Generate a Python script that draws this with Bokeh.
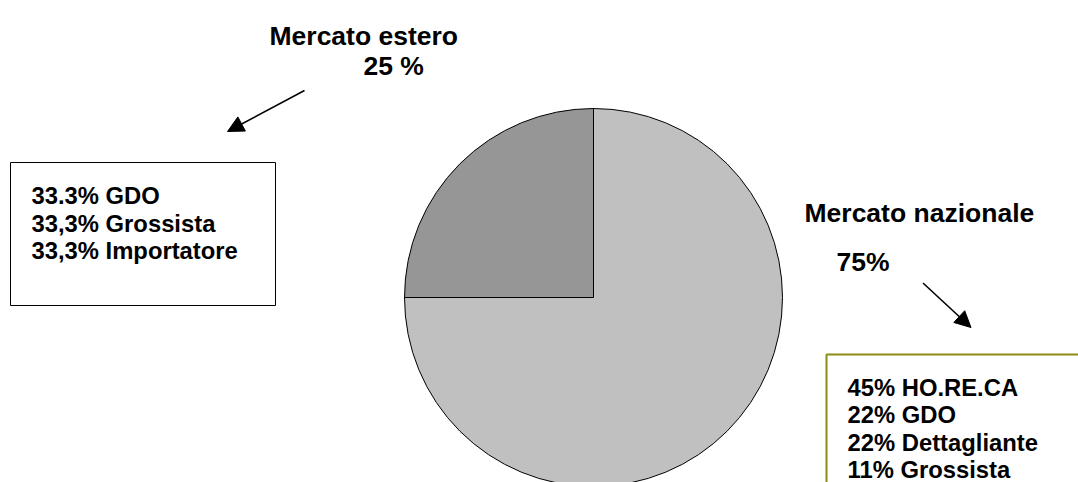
import math
from bokeh.plotting import figure
from bokeh.models import Range1d, Arrow, NormalHead, ColumnDataSource
from bokeh.core.properties import value
from bokeh.embed import file_html
from bokeh.resources import INLINE

# ---- data ----
segments = ["Mercato estero", "Mercato nazionale"]
shares = [25, 75]
share_labels = ["25 %", "75%"]
segment_colors = ["#969696", "#C0C0C0"]
export_channels = ["33.3% GDO", "33,3% Grossista", "33,3% Importatore"]
domestic_channels = ["45% HO.RE.CA", "22% GDO", "22% Dettagliante", "11% Grossista"]

W, H = 1078, 482
FONT = value("Liberation Sans")

p = figure(width=W, height=H, output_backend="svg", toolbar_location=None,
           x_range=Range1d(0, W), y_range=Range1d(0, H), min_border=0)
p.axis.visible = False
p.grid.visible = False
p.outline_line_color = None
p.background_fill_color = "white"
p.border_fill_color = "white"

def Y(y):
    return H - y

# ---- pie ----
cx, cy, r = 593, 297, 189
total = sum(shares)
starts, ends = [], []
a = math.pi / 2
for s in shares:
    starts.append(a)
    a += 2 * math.pi * s / total
    ends.append(a)
src = ColumnDataSource(dict(start=starts, end=ends, color=segment_colors, name=segments))
p.wedge(x=cx, y=Y(cy), radius=r, start_angle="start", end_angle="end",
        fill_color="color", line_color="black", line_width=1, source=src)

# ---- boxes ----
p.quad(left=10, right=275, top=Y(162), bottom=Y(305), fill_color="white",
       line_color="black", line_width=1)
p.quad(left=826, right=W + 20, top=Y(354), bottom=-20, fill_color="white",
       line_color="#8C8C14", line_width=2)

# ---- titles ----
TS = "26.5px"
p.text(x=[269], y=[Y(35)], text=[segments[0]], text_font=FONT, text_font_style="bold",
       text_font_size=TS, text_baseline="alphabetic", text_align="left", text_color="black")
p.text(x=[363], y=[Y(65.5)], text=[share_labels[0]], text_font=FONT, text_font_style="bold",
       text_font_size=TS, text_baseline="alphabetic", text_align="left", text_color="black")
p.text(x=[804], y=[Y(212)], text=[segments[1]], text_font=FONT, text_font_style="bold",
       text_font_size=TS, text_baseline="alphabetic", text_align="left", text_color="black")
p.text(x=[836], y=[Y(261.5)], text=[share_labels[1]], text_font=FONT, text_font_style="bold",
       text_font_size=TS, text_baseline="alphabetic", text_align="left", text_color="black")

# ---- box texts ----
BS = "23.8px"
ls = 27.5
p.text(x=[31] * len(export_channels),
       y=[Y(195 + i * ls) for i in range(len(export_channels))],
       text=export_channels, text_font=FONT, text_font_style="bold",
       text_font_size=BS, text_baseline="alphabetic", text_align="left", text_color="black")
p.text(x=[847] * len(domestic_channels),
       y=[Y(386.5 + i * ls) for i in range(len(domestic_channels))],
       text=domestic_channels, text_font=FONT, text_font_style="bold",
       text_font_size=BS, text_baseline="alphabetic", text_align="left", text_color="black")

# ---- arrows ----
p.add_layout(Arrow(x_start=304, y_start=Y(90), x_end=227, y_end=Y(131),
                   line_color="black", line_width=1.6,
                   end=NormalHead(size=16, fill_color="black", line_color="black")))
p.add_layout(Arrow(x_start=922.5, y_start=Y(282.5), x_end=970.5, y_end=Y(327),
                   line_color="black", line_width=1.6,
                   end=NormalHead(size=16, fill_color="black", line_color="black")))

open("out.html", "w").write(file_html(p, INLINE))
